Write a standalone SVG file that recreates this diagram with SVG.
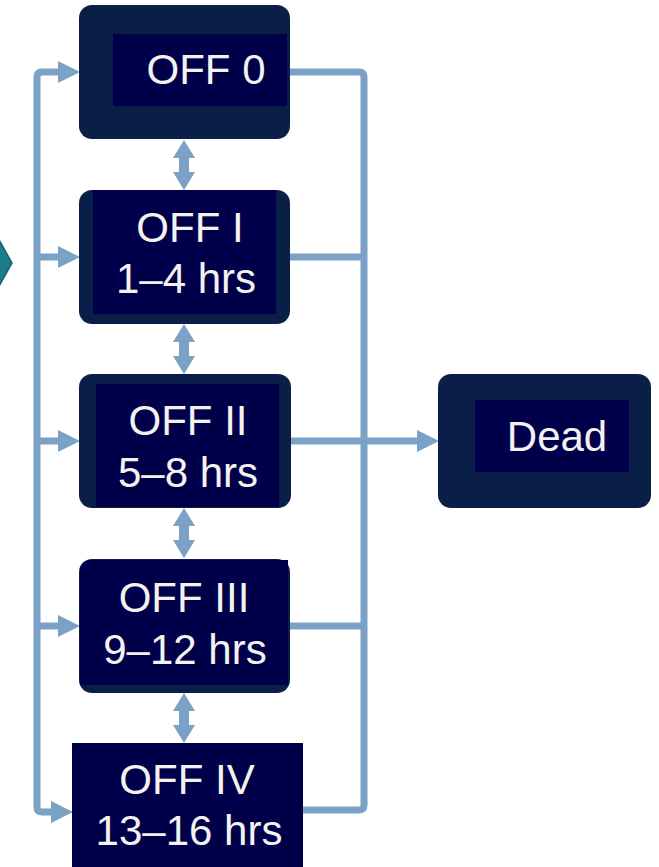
<svg xmlns="http://www.w3.org/2000/svg" width="659" height="867" viewBox="0 0 659 867">
  <style>
    .outer { fill: #0a1f48; }
    .inner { fill: #00004a; }
    .label { font-family: "Liberation Sans", Arial, sans-serif; font-size: 42px; fill: #f4f2ee; text-anchor: middle; }
    .wire { fill: none; stroke: #7ba2c6; stroke-width: 7; stroke-linejoin: round; }
    .head { fill: #7ba2c6; }
  </style>
  <defs>
    <!-- vertical two-way arrow, 50 tall, centred on x=0 -->
    <path id="dbl" d="M0 0 L11 18 L5 18 L5 32 L11 32 L0 50 L-11 32 L-5 32 L-5 18 L-11 18 Z"/>
    <!-- right-pointing arrowhead, tip at (0,0) -->
    <path id="tip" d="M0 0 L-22 -11 L-22 11 Z"/>
  </defs>

  <rect width="659" height="867" fill="#ffffff"/>

  <!-- partial chevron at the left edge -->
  <path d="M-2 238 L12 263 L-2 288 Z" fill="#1e7b8c" stroke="#165f6e" stroke-width="1.5"/>

  <g id="connectors">
    <!-- left feed bus -->
    <path class="wire" d="M60 72 H42 Q37 72 37 77 V807 Q37 812 42 812 H52"/>
    <path class="wire" d="M37 257 H60"/>
    <path class="wire" d="M37 441 H60"/>
    <path class="wire" d="M37 626 H60"/>
    <use href="#tip" class="head" x="80" y="72"/>
    <use href="#tip" class="head" x="80" y="257"/>
    <use href="#tip" class="head" x="80" y="441"/>
    <use href="#tip" class="head" x="80" y="626"/>
    <use href="#tip" class="head" x="73" y="812"/>

    <!-- right collector bus -->
    <path class="wire" d="M290 72 H359 Q364 72 364 77 V805 Q364 810 359 810 H303"/>
    <path class="wire" d="M290 257 H364"/>
    <path class="wire" d="M290 626 H364"/>
    <path class="wire" d="M290 441 H418"/>
    <use href="#tip" class="head" x="439" y="441"/>

    <!-- two-way links between stages -->
    <use href="#dbl" class="head" x="184" y="140"/>
    <use href="#dbl" class="head" x="184" y="324"/>
    <use href="#dbl" class="head" x="184" y="508"/>
    <use href="#dbl" class="head" x="184" y="693"/>
  </g>

  <g id="off0">
    <rect class="outer" x="79" y="5" width="211" height="134" rx="13"/>
    <rect class="inner" x="113" y="34" width="174" height="72"/>
    <text class="label" x="206" y="84">OFF 0</text>
  </g>

  <g id="off1">
    <rect class="outer" x="79" y="190" width="211" height="134" rx="13"/>
    <rect class="inner" x="93" y="190" width="183" height="124"/>
    <text class="label" x="190" y="242">OFF I</text>
    <text class="label" x="186" y="293">1–4 hrs</text>
  </g>

  <g id="off2">
    <rect class="outer" x="79" y="374" width="212" height="134" rx="13"/>
    <rect class="inner" x="96" y="384" width="183" height="123"/>
    <text class="label" x="188" y="435">OFF II</text>
    <text class="label" x="188" y="487">5–8 hrs</text>
  </g>

  <g id="off3">
    <rect class="outer" x="79" y="559" width="211" height="134" rx="13"/>
    <path class="inner" d="M92 560 H288 V685 H80 V572 Q80 560 92 560 Z"/>
    <text class="label" x="184" y="612">OFF III</text>
    <text class="label" x="185" y="664">9–12 hrs</text>
  </g>

  <g id="off4">
    <rect class="outer" x="79" y="743" width="211" height="134" rx="13"/>
    <rect class="inner" x="72" y="743" width="231" height="124"/>
    <text class="label" x="187" y="794">OFF IV</text>
    <text class="label" x="189" y="845">13–16 hrs</text>
  </g>

  <g id="dead">
    <rect class="outer" x="438" y="374" width="213" height="134" rx="13"/>
    <rect class="inner" x="475" y="400" width="154" height="72"/>
    <text class="label" x="557" y="451">Dead</text>
  </g>
</svg>
